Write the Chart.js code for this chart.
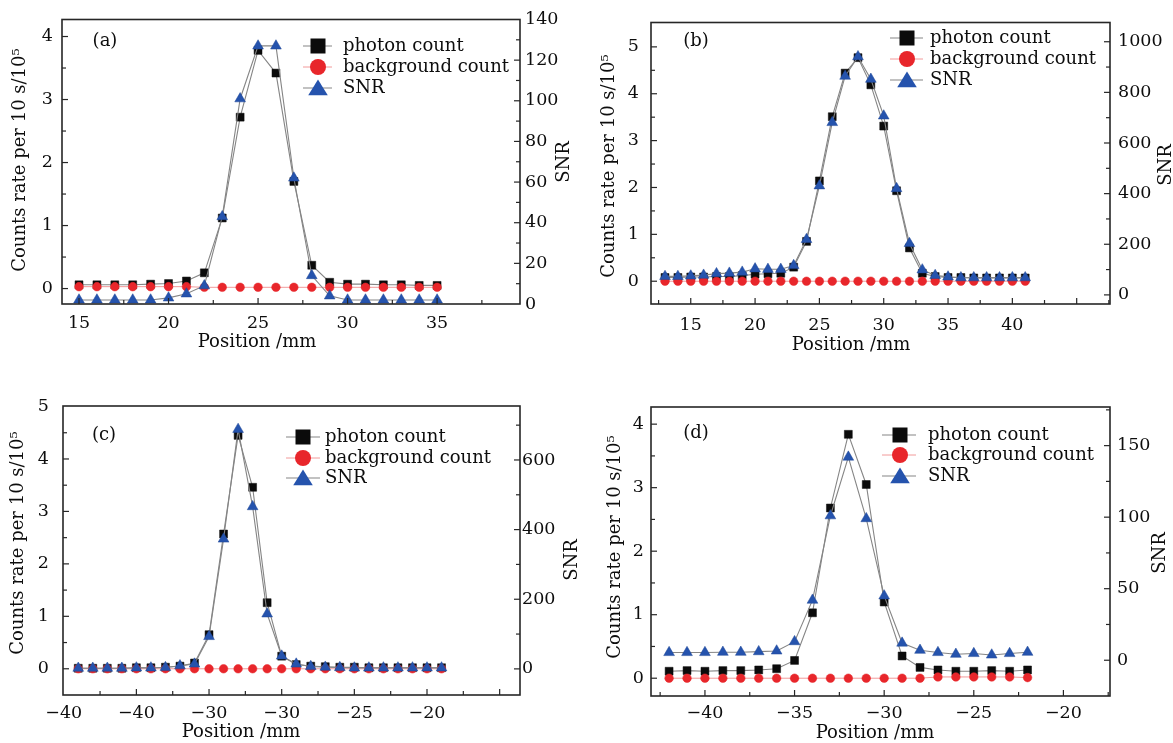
<!DOCTYPE html>
<html>
<head>
<meta charset="utf-8">
<title>Counts rate and SNR versus position</title>
<script src="https://cdn.jsdelivr.net/npm/chart.js@4.4.1/dist/chart.umd.min.js"></script>
<style>
  html, body { margin:0; padding:0; background:#ffffff; }
  body { width:1173px; height:743px; position:relative; overflow:hidden; }
  canvas { position:absolute; display:block; }
</style>
</head>
<body>
<canvas id="pa" width="586" height="372" style="left:0px;top:0px;width:586px;height:372px"></canvas>
<canvas id="pb" width="587" height="372" style="left:586px;top:0px;width:587px;height:372px"></canvas>
<canvas id="pc" width="586" height="371" style="left:0px;top:372px;width:586px;height:371px"></canvas>
<canvas id="pd" width="587" height="371" style="left:586px;top:372px;width:587px;height:371px"></canvas>
<script>
// ================= DATA =================
const seriesNames = ['photon count', 'background count', 'SNR'];

// Panel (a)
const positionA = [15,16,17,18,19,20,21,22,23,24,25,26,27,28,29,30,31,32,33,34,35];
const photonA   = [0.06,0.06,0.06,0.06,0.07,0.08,0.12,0.25,1.12,2.72,3.78,3.42,1.70,0.37,0.10,0.07,0.07,0.06,0.06,0.05,0.05];
const backgroundA = [0.03,0.03,0.03,0.03,0.03,0.03,0.03,0.02,0.02,0.02,0.02,0.02,0.02,0.02,0.02,0.02,0.02,0.02,0.02,0.02,0.02];
const snrA      = [2,2,2,2,2,3,5,9,43,101,127,127,62,14,4,2,2,2,2,2,2];
const xTicksA = [15,20,25,30,35];
const xLabelsA = ['15','20','25','30','35'];
const yLTicksA = [0,1,2,3,4];
const yLLabelsA = ['0','1','2','3','4'];
const yRTicksA = [0,20,40,60,80,100,120,140];
const yRLabelsA = ['0','20','40','60','80','100','120','140'];

// Panel (b)
const positionB = [13,14,15,16,17,18,19,20,21,22,23,24,25,26,27,28,29,30,31,32,33,34,35,36,37,38,39,40,41];
const photonB   = [0.08,0.08,0.09,0.09,0.10,0.10,0.12,0.15,0.16,0.17,0.30,0.85,2.14,3.51,4.44,4.77,4.19,3.31,1.93,0.71,0.17,0.10,0.08,0.08,0.07,0.07,0.07,0.07,0.07];
const backgroundB = [0,0,0,0,0,0,0,0,0,0,0,0,0,0,0,0,0,0,0,0,0,0,0,0,0,0,0,0,0];
const snrB      = [73,73,75,78,84,86,90,103,101,101,116,219,431,681,864,941,852,707,420,203,99,77,71,68,68,68,68,68,68];
const xTicksB = [15,20,25,30,35,40];
const xLabelsB = ['15','20','25','30','35','40'];
const yLTicksB = [0,1,2,3,4,5];
const yLLabelsB = ['0','1','2','3','4','5'];
const yRTicksB = [0,200,400,600,800,1000];
const yRLabelsB = ['0','200','400','600','800','1000'];

// Panel (c)
const positionC = [-39,-38,-37,-36,-35,-34,-33,-32,-31,-30,-29,-28,-27,-26,-25,-24,-23,-22,-21,-20,-19,-18,-17,-16,-15,-14];
const photonC   = [0.01,0.01,0.01,0.01,0.02,0.02,0.03,0.05,0.11,0.65,2.57,4.45,3.46,1.26,0.24,0.08,0.05,0.04,0.03,0.03,0.02,0.02,0.02,0.02,0.02,0.02];
const backgroundC = [0,0,0,0,0,0,0,0,0,0,0,0,0,0,0,0,0,0,0,0,0,0,0,0,0,0];
const snrC      = [2,2,2,2,3,3,4,9,14,93,373,688,466,158,37,14,7,5,4,3,3,3,3,3,3,3];
const xTicksC = [-40,-35,-30,-25,-20,-15];
const xLabelsC = ['\u221240','\u221240','\u221230','\u221230','\u221225','\u221220'];
const yLTicksC = [0,1,2,3,4,5];
const yLLabelsC = ['0','1','2','3','4','5'];
const yRTicksC = [0,200,400,600];
const yRLabelsC = ['0','200','400','600'];

// Panel (d)
const positionD = [-42,-41,-40,-39,-38,-37,-36,-35,-34,-33,-32,-31,-30,-29,-28,-27,-26,-25,-24,-23,-22];
const photonD   = [0.11,0.12,0.11,0.12,0.12,0.13,0.15,0.28,1.03,2.68,3.84,3.05,1.20,0.35,0.17,0.13,0.11,0.11,0.12,0.11,0.13];
const backgroundD = [0,0,0,0,0,0,0,0,0,0,0,0,0,0,0,0.02,0.02,0.02,0.02,0.02,0.01];
const snrD      = [5.4,5.4,5.4,5.6,5.6,6.0,6.5,13,42,101,142,99,45,12,7.0,5.4,4.2,4.7,3.7,4.7,5.6];
const xTicksD = [-40,-35,-30,-25,-20];
const xLabelsD = ['\u221240','\u221235','\u221230','\u221225','\u221220'];
const yLTicksD = [0,1,2,3,4];
const yLLabelsD = ['0','1','2','3','4'];
const yRTicksD = [0,50,100,150];
const yRLabelsD = ['0','50','100','150'];

// ================= STYLE / LAYOUT =================
const FONT = 'DejaVu Serif';
const TEXT = '#0d0d0d';
const styles = [
  { yAxisID:'yL', borderColor:'#858585', borderWidth:1.1, pointStyle:'rect', pointRadius:5.6,
    pointBackgroundColor:'#0b0b0b', pointBorderColor:'#0b0b0b', pointBorderWidth:0.5, order:2, legendShape:'rect' },
  { yAxisID:'yL', borderColor:'#f29a9a', borderWidth:1, pointStyle:'circle', pointRadius:4.3,
    pointBackgroundColor:'#e8262b', pointBorderColor:'#e8262b', pointBorderWidth:0.5, order:1, legendShape:'circle' },
  { yAxisID:'yR', borderColor:'#858585', borderWidth:1.1, pointStyle:'triangle', pointRadius:6.2,
    pointBackgroundColor:'#2553ad', pointBorderColor:'#1f4796', pointBorderWidth:0.5, order:0, legendShape:'triangle' }
];

const panels = [
  { id:'pa', ox:0, oy:0, w:586, h:372, area:{l:62,r:520,t:16,b:304},
    pos:positionA, series:[photonA, backgroundA, snrA],
    x:{min:14.05,max:39.63,ticks:xTicksA,labels:xLabelsA,minor:2.5,major:5,pad:9},
    yL:{min:-0.245,max:4.27,ticks:yLTicksA,labels:yLLabelsA,minor:0.5,major:1,pad:9},
    yR:{min:0,max:140,ticks:yRTicksA,labels:yRLabelsA,minor:10,major:20,pad:5},
    tag:'(a)', tagPos:[105,41],
    legend:{l0:303,l1:332,mx:318,tx:343,rows:[46,67,88]},
    titleL:[20,160], titleR:[564,162], titleX:[257,342] },
  { id:'pb', ox:586, oy:0, w:587, h:372, area:{l:651,r:1110,t:16,b:304},
    pos:positionB, series:[photonB, backgroundB, snrB],
    x:{min:11.91,max:47.59,ticks:xTicksB,labels:xLabelsB,minor:2.5,major:5,pad:11},
    yL:{min:-0.486,max:5.52,ticks:yLTicksB,labels:yLLabelsB,minor:0.5,major:1,pad:12},
    yR:{min:-36,max:1076,ticks:yRTicksB,labels:yRLabelsB,minor:100,major:200,pad:8},
    tag:'(b)', tagPos:[696,41],
    legend:{l0:890,l1:923,mx:907,tx:930,rows:[38,59,80]},
    titleL:[609,166], titleR:[1166,165], titleX:[851,345] },
  { id:'pc', ox:0, oy:372, w:586, h:371, area:{l:63,r:520,t:406,b:695},
    pos:positionC, series:[photonC, backgroundC, snrC],
    x:{min:-40.05,max:-8.6,ticks:xTicksC,labels:xLabelsC,minor:2.5,major:5,pad:8},
    yL:{min:-0.5,max:5.01,ticks:yLTicksC,labels:yLLabelsC,minor:0.5,major:1,pad:14},
    yR:{min:-75,max:755,ticks:yRTicksC,labels:yRLabelsC,minor:100,major:200,pad:2},
    tag:'(c)', tagPos:[104,435],
    legend:{l0:286,l1:320,mx:303,tx:325,rows:[437,458,478]},
    titleL:[18,543], titleR:[572,560], titleX:[241,732] },
  { id:'pd', ox:586, oy:372, w:587, h:371, area:{l:651,r:1110,t:407,b:696},
    pos:positionD, series:[photonD, backgroundD, snrD],
    x:{min:-43.01,max:-17.4,ticks:xTicksD,labels:xLabelsD,minor:2.5,major:5,pad:7},
    yL:{min:-0.28,max:4.27,ticks:yLTicksD,labels:yLLabelsD,minor:0.5,major:1,pad:7},
    yR:{min:-25,max:177,ticks:yRTicksD,labels:yRLabelsD,minor:25,major:50,pad:7},
    tag:'(d)', tagPos:[696,433],
    legend:{l0:882,l1:916,mx:900,tx:928,rows:[435,455,476]},
    titleL:[615,547], titleR:[1160,553], titleX:[875,733] }
];

// ================= HELPERS =================
function stepValues(min, max, step) {
  const out = [];
  let v = Math.ceil(min / step - 1e-9) * step;
  for (; v <= max + 1e-9; v += step) out.push(+v.toFixed(6));
  return out;
}
function isMajor(v, major) {
  const q = v / major;
  return Math.abs(q - Math.round(q)) < 1e-6;
}
function labelFor(ax) {
  return (value) => {
    const i = ax.ticks.findIndex(t => Math.abs(t - value) < 1e-9);
    return i >= 0 ? ax.labels[i] : '';
  };
}
function drawShape(ctx, shape, x, y, s) {
  ctx.beginPath();
  if (shape === 'rect') {
    ctx.rect(x - s, y - s, 2 * s, 2 * s);
  } else if (shape === 'circle') {
    ctx.arc(x, y, s, 0, Math.PI * 2);
  } else {
    ctx.moveTo(x, y - s * 1.15);
    ctx.lineTo(x - s * 1.3, y + s * 0.95);
    ctx.lineTo(x + s * 1.3, y + s * 0.95);
    ctx.closePath();
  }
  ctx.fill();
}

function decoPlugin(p) {
  return {
    id: 'deco_' + p.id,
    afterDraw(chart) {
      const ctx = chart.ctx, a = chart.chartArea;
      const sx = chart.scales.x, sl = chart.scales.yL, sr = chart.scales.yR;
      ctx.save();
      // frame
      ctx.strokeStyle = '#262626';
      ctx.lineWidth = 1.6;
      ctx.strokeRect(a.left, a.top, a.right - a.left, a.bottom - a.top);
      // inward ticks
      ctx.lineWidth = 1.2;
      const seg = (x1, y1, x2, y2) => { ctx.beginPath(); ctx.moveTo(x1, y1); ctx.lineTo(x2, y2); ctx.stroke(); };
      stepValues(p.x.min, p.x.max, p.x.minor).forEach(v => {
        const X = sx.getPixelForValue(v);
        if (X <= a.left + 1 || X >= a.right - 1) return;
        seg(X, a.bottom, X, a.bottom - (isMajor(v, p.x.major) ? 6 : 4));
      });
      stepValues(p.yL.min, p.yL.max, p.yL.minor).forEach(v => {
        const Y = sl.getPixelForValue(v);
        if (Y <= a.top + 1 || Y >= a.bottom - 1) return;
        seg(a.left, Y, a.left + (isMajor(v, p.yL.major) ? 6 : 4), Y);
      });
      stepValues(p.yR.min, p.yR.max, p.yR.minor).forEach(v => {
        const Y = sr.getPixelForValue(v);
        if (Y <= a.top + 1 || Y >= a.bottom - 1) return;
        seg(a.right, Y, a.right - (isMajor(v, p.yR.major) ? 6 : 4), Y);
      });
      // panel tag
      ctx.fillStyle = TEXT;
      ctx.textAlign = 'center';
      ctx.textBaseline = 'middle';
      ctx.font = '18px "' + FONT + '"';
      ctx.fillText(p.tag, p.tagPos[0] - p.ox, p.tagPos[1] - p.oy);
      // legend
      const lg = p.legend;
      chart.data.datasets.forEach((ds, i) => {
        const y = lg.rows[i] - p.oy;
        ctx.strokeStyle = ds.borderColor;
        ctx.lineWidth = 1;
        seg(lg.l0 - p.ox, y, lg.l1 - p.ox, y);
        ctx.fillStyle = ds.pointBackgroundColor;
        const s = ds.legendShape === 'rect' ? 7.5 : (ds.legendShape === 'circle' ? 8 : 7.5);
        drawShape(ctx, ds.legendShape, lg.mx - p.ox, y, s);
        ctx.fillStyle = TEXT;
        ctx.textAlign = 'left';
        ctx.font = '18px "' + FONT + '"';
        ctx.fillText(ds.label, lg.tx - p.ox, y);
      });
      // axis titles
      ctx.fillStyle = TEXT;
      ctx.textAlign = 'center';
      ctx.textBaseline = 'middle';
      ctx.font = '18px "' + FONT + '"';
      ctx.save();
      ctx.translate(p.titleL[0] - p.ox, p.titleL[1] - p.oy);
      ctx.rotate(-Math.PI / 2);
      ctx.fillText('Counts rate per 10 s/10\u2075', 0, 0);
      ctx.restore();
      ctx.save();
      ctx.translate(p.titleR[0] - p.ox, p.titleR[1] - p.oy);
      ctx.rotate(-Math.PI / 2);
      ctx.fillText('SNR', 0, 0);
      ctx.restore();
      ctx.fillText('Position /mm', p.titleX[0] - p.ox, p.titleX[1] - p.oy);
      ctx.restore();
    }
  };
}

function axisOpts(ax, position, pad, fitFn) {
  return {
    type: 'linear', position: position, min: ax.min, max: ax.max,
    afterBuildTicks: (s) => { s.ticks = ax.ticks.map(v => ({ value: v })); },
    afterFit: fitFn,
    grid: { display: false, drawTicks: false, drawOnChartArea: false },
    border: { display: false },
    ticks: {
      autoSkip: false, maxRotation: 0, minRotation: 0, padding: pad,
      color: TEXT, font: { family: FONT, size: 17.5 },
      callback: labelFor(ax)
    }
  };
}

panels.forEach(p => {
  const datasets = p.series.map((ys, i) => Object.assign({
    label: seriesNames[i],
    data: p.pos.map((x, k) => ({ x: x, y: ys[k] })),
    tension: 0, fill: false, clip: false
  }, styles[i]));
  new Chart(document.getElementById(p.id), {
    type: 'line',
    data: { datasets: datasets },
    options: {
      responsive: false, animation: false, devicePixelRatio: 1,
      layout: { padding: { top: p.area.t - p.oy, left: 0, right: 0, bottom: 0 } },
      plugins: { legend: { display: false }, tooltip: { enabled: false }, title: { display: false } },
      events: [],
      scales: {
        x: axisOpts(p.x, 'bottom', p.x.pad, s => { s.height = p.oy + p.h - p.area.b; }),
        yL: axisOpts(p.yL, 'left', p.yL.pad, s => { s.width = p.area.l - p.ox; }),
        yR: axisOpts(p.yR, 'right', p.yR.pad, s => { s.width = p.ox + p.w - p.area.r; })
      }
    },
    plugins: [decoPlugin(p)]
  });
});
</script>
</body>
</html>
